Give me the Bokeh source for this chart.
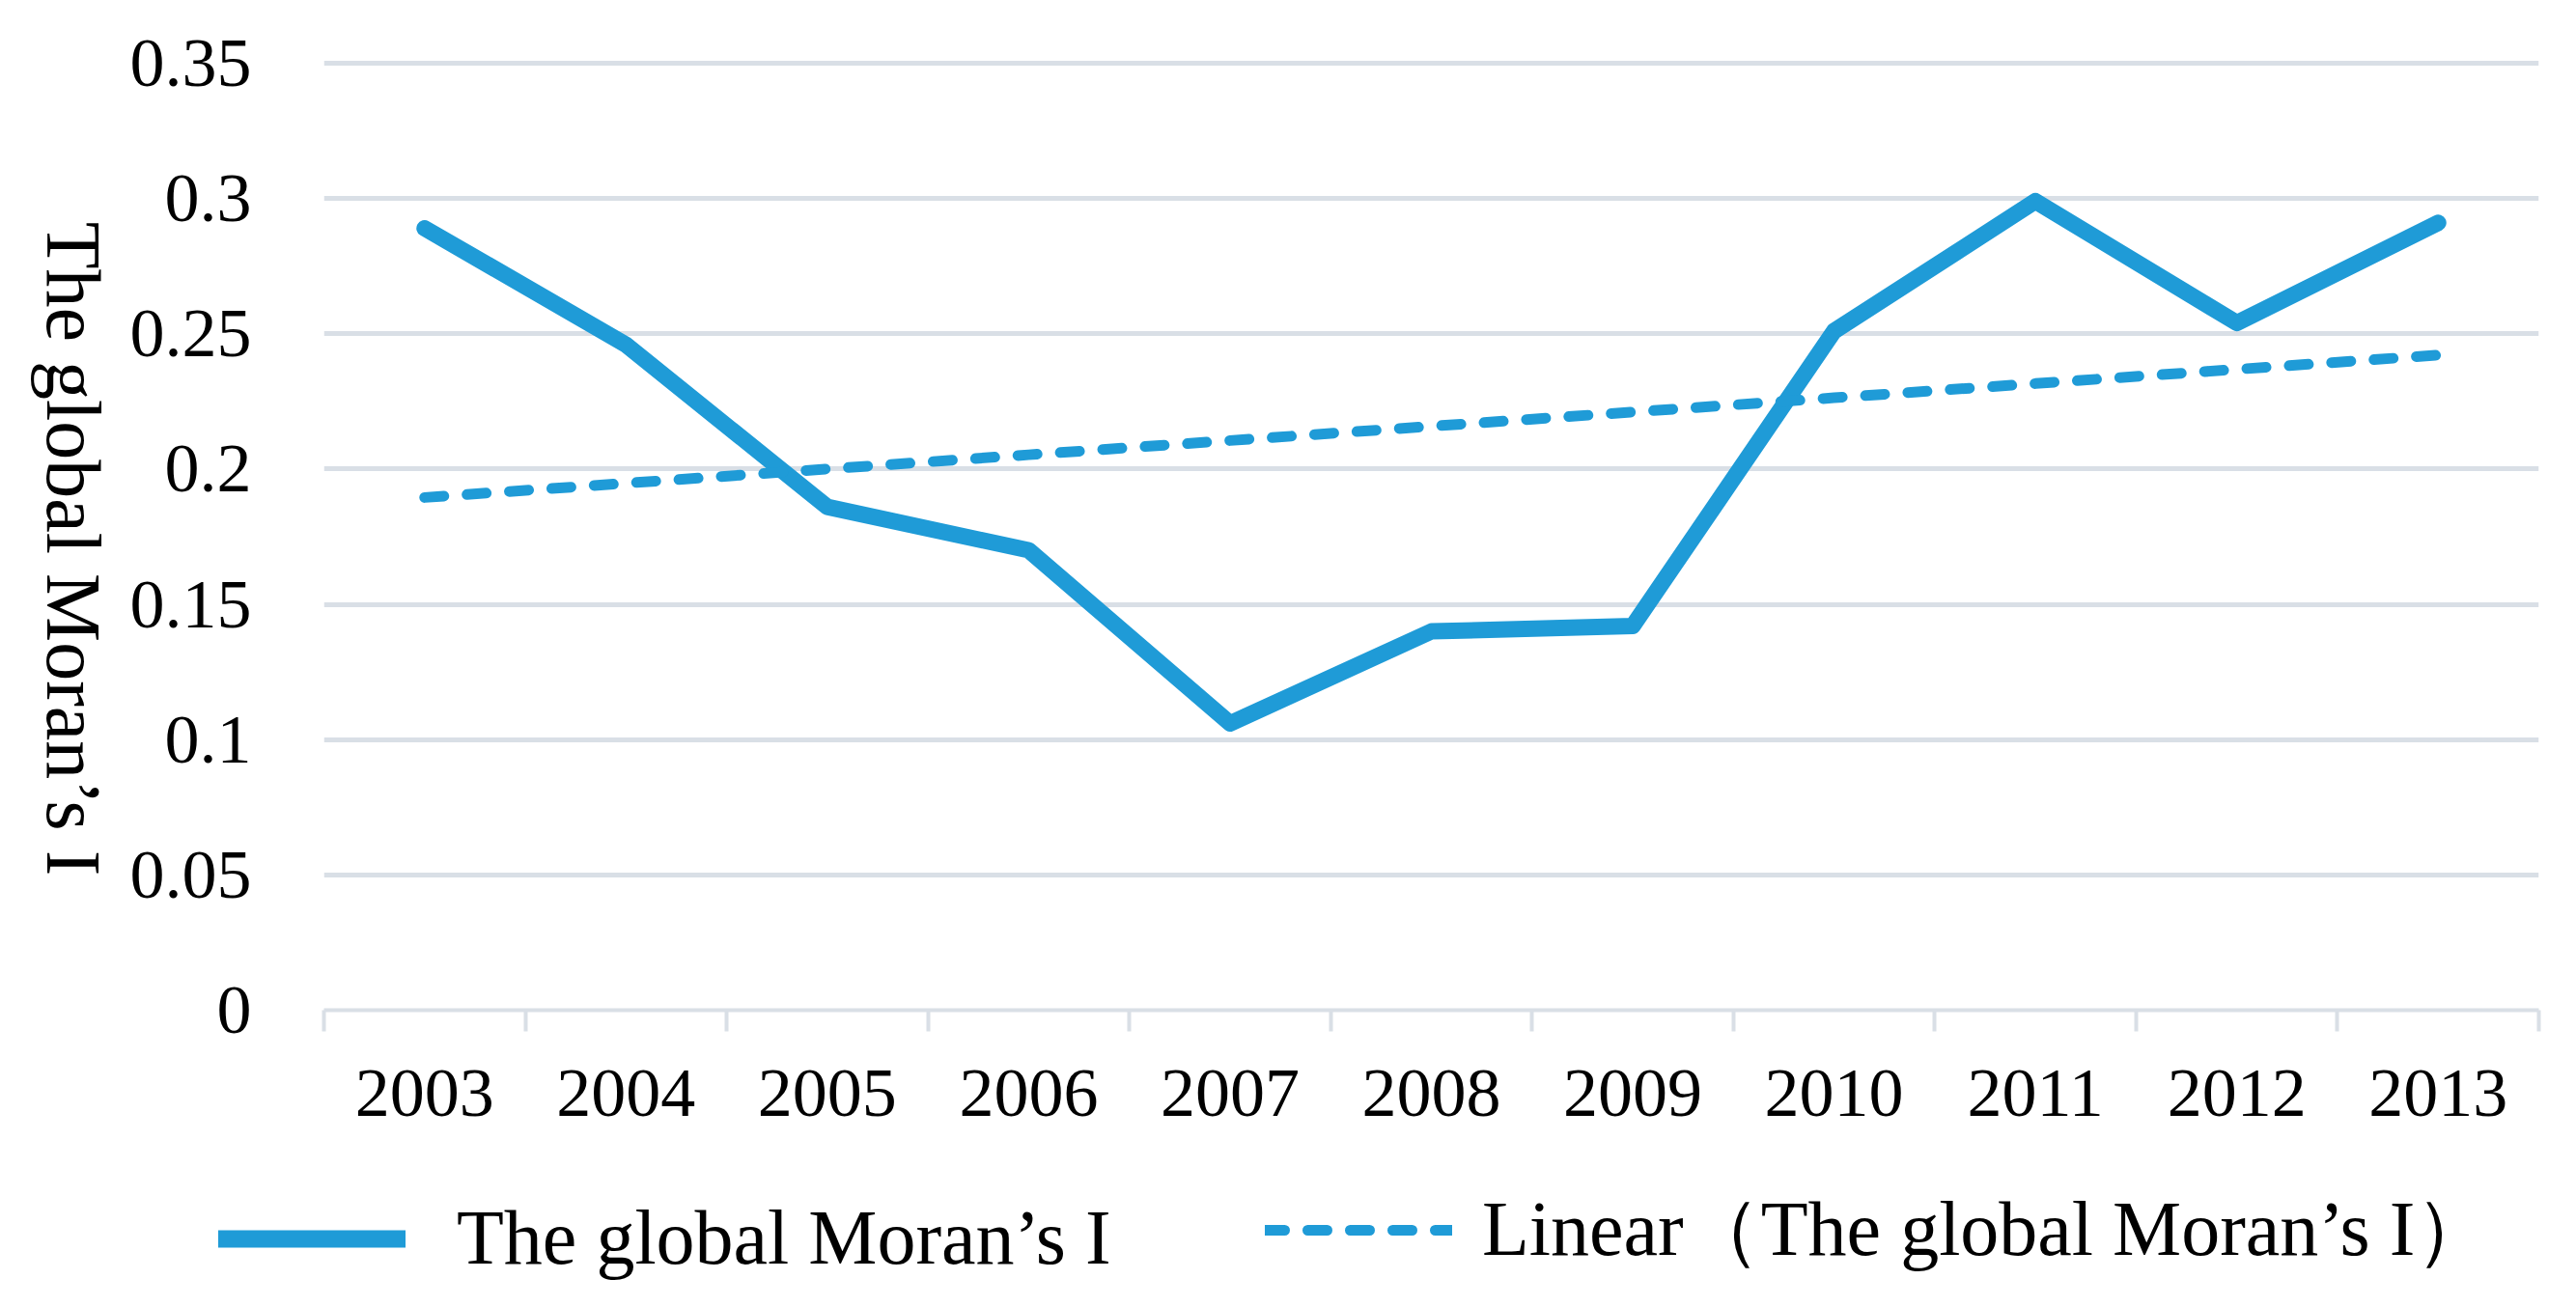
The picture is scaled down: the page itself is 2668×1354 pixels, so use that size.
import numpy as np
from bokeh.plotting import figure
from bokeh.layouts import row, column
from bokeh.models import Range1d, FixedTicker, Legend, LegendItem, Label
from bokeh.embed import file_html
from bokeh.resources import INLINE

# ---- data ----
years = ["2003", "2004", "2005", "2006", "2007", "2008", "2009", "2010", "2011", "2012", "2013"]
morans_i = [0.289, 0.246, 0.186, 0.170, 0.106, 0.140, 0.142, 0.251, 0.299, 0.254, 0.291]
y_ticks = [0, 0.05, 0.1, 0.15, 0.2, 0.25, 0.3, 0.35]
y_tick_labels = ["0", "0.05", "0.1", "0.15", "0.2", "0.25", "0.3", "0.35"]
series_name = "The global Moran\u2019s I"
trend_name = "Linear\uff08The global Moran\u2019s I\uff09"
axis_title = "The global Moran\u2019s I"

# ---- styles ----
BLUE = "#1F9BD7"
GRID = "#D9DFE6"
FONT = "Liberation Serif"

TOTAL_W, TOTAL_H = 2650, 1336
TITLE_W = 120
MAIN_H = 1178
FRAME_L, FRAME_R, FRAME_T, FRAME_B = 335, 2629, 37, 1046

idx = list(range(len(years)))
slope, intercept = np.polyfit(idx, morans_i, 1)
trend = [slope * i + intercept for i in idx]


def blank_fig(w, h, xr, yr):
    f = figure(width=w, height=h, x_range=xr, y_range=yr,
               output_backend="svg", toolbar_location=None,
               x_axis_location=None, y_axis_location=None,
               min_border=0, min_border_left=0, min_border_right=0,
               min_border_top=0, min_border_bottom=0)
    f.grid.visible = False
    f.outline_line_color = None
    f.background_fill_color = "white"
    f.border_fill_color = "white"
    return f


# ---- main chart ----
MAIN_W = TOTAL_W - TITLE_W
p = figure(width=MAIN_W, height=MAIN_H,
           x_range=Range1d(-0.5, len(years) - 0.5),
           y_range=Range1d(0, 0.36),
           output_backend="svg", toolbar_location=None,
           min_border_left=FRAME_L - TITLE_W, min_border_right=TOTAL_W - FRAME_R,
           min_border_top=FRAME_T, min_border_bottom=MAIN_H - FRAME_B)
p.outline_line_color = None
p.background_fill_color = "white"
p.border_fill_color = "white"

p.xgrid.visible = False
p.ygrid.ticker = FixedTicker(ticks=y_ticks)
p.ygrid.grid_line_color = GRID
p.ygrid.grid_line_width = 5

ya = p.yaxis[0]
ya.ticker = FixedTicker(ticks=y_ticks)
ya.major_label_overrides = {t: s for t, s in zip(y_ticks, y_tick_labels)}
ya.axis_line_color = None
ya.major_tick_line_color = None
ya.minor_tick_line_color = None
ya.major_tick_out = 0
ya.major_tick_in = 0
ya.major_label_standoff = 75
ya.major_label_text_font = FONT
ya.major_label_text_font_size = "72px"
ya.major_label_text_color = "black"

xa = p.xaxis[0]
xa.ticker = FixedTicker(ticks=idx, minor_ticks=[i - 0.5 for i in range(len(years) + 1)])
xa.major_label_overrides = {i: y for i, y in zip(idx, years)}
xa.axis_line_color = GRID
xa.axis_line_width = 4
xa.major_tick_line_color = None
xa.major_tick_out = 0
xa.major_tick_in = 0
xa.minor_tick_line_color = GRID
xa.minor_tick_line_width = 4
xa.minor_tick_out = 22
xa.minor_tick_in = 0
xa.major_label_standoff = 40
xa.major_label_text_font = FONT
xa.major_label_text_font_size = "72px"
xa.major_label_text_color = "black"

p.line(idx, morans_i, line_color=BLUE, line_width=17,
       line_join="round", line_cap="round")
p.line(idx, trend, line_color=BLUE, line_width=11,
       line_dash="20 24", line_cap="round")

# ---- y-axis title strip (text reads top to bottom) ----
t = blank_fig(TITLE_W, MAIN_H, Range1d(0, TITLE_W), Range1d(0, MAIN_H))
t.add_layout(Label(x=75, y=MAIN_H - 620, text=axis_title, angle=-np.pi / 2,
                   text_align="center", text_baseline="middle",
                   text_font=FONT, text_font_size="80px", text_color="black"))

# ---- legend strip (the sample lines lie outside its visible range) ----
LEG_H = TOTAL_H - MAIN_H
lg = blank_fig(TOTAL_W, LEG_H, Range1d(1000, 1001), Range1d(1000, 1001))
l1 = lg.line(idx, morans_i, line_color=BLUE, line_width=18, line_cap="round")
l2 = lg.line(idx, trend, line_color=BLUE, line_width=11,
             line_dash="20 24", line_cap="round")

common = dict(orientation="horizontal", glyph_width=194, glyph_height=20,
              padding=0, margin=0, border_line_alpha=0, background_fill_alpha=0,
              label_text_font=FONT, label_text_font_size="80px",
              label_text_color="black")
lg.add_layout(Legend(items=[LegendItem(label=series_name, renderers=[l1])],
                     location=(226, 8), label_standoff=53, **common))
lg.add_layout(Legend(items=[LegendItem(label=trend_name, renderers=[l2])],
                     location=(1310, 8), label_standoff=31, **common))

layout = column(row(t, p, spacing=0), lg, spacing=0)
open("out.html", "w").write(file_html(layout, INLINE))
